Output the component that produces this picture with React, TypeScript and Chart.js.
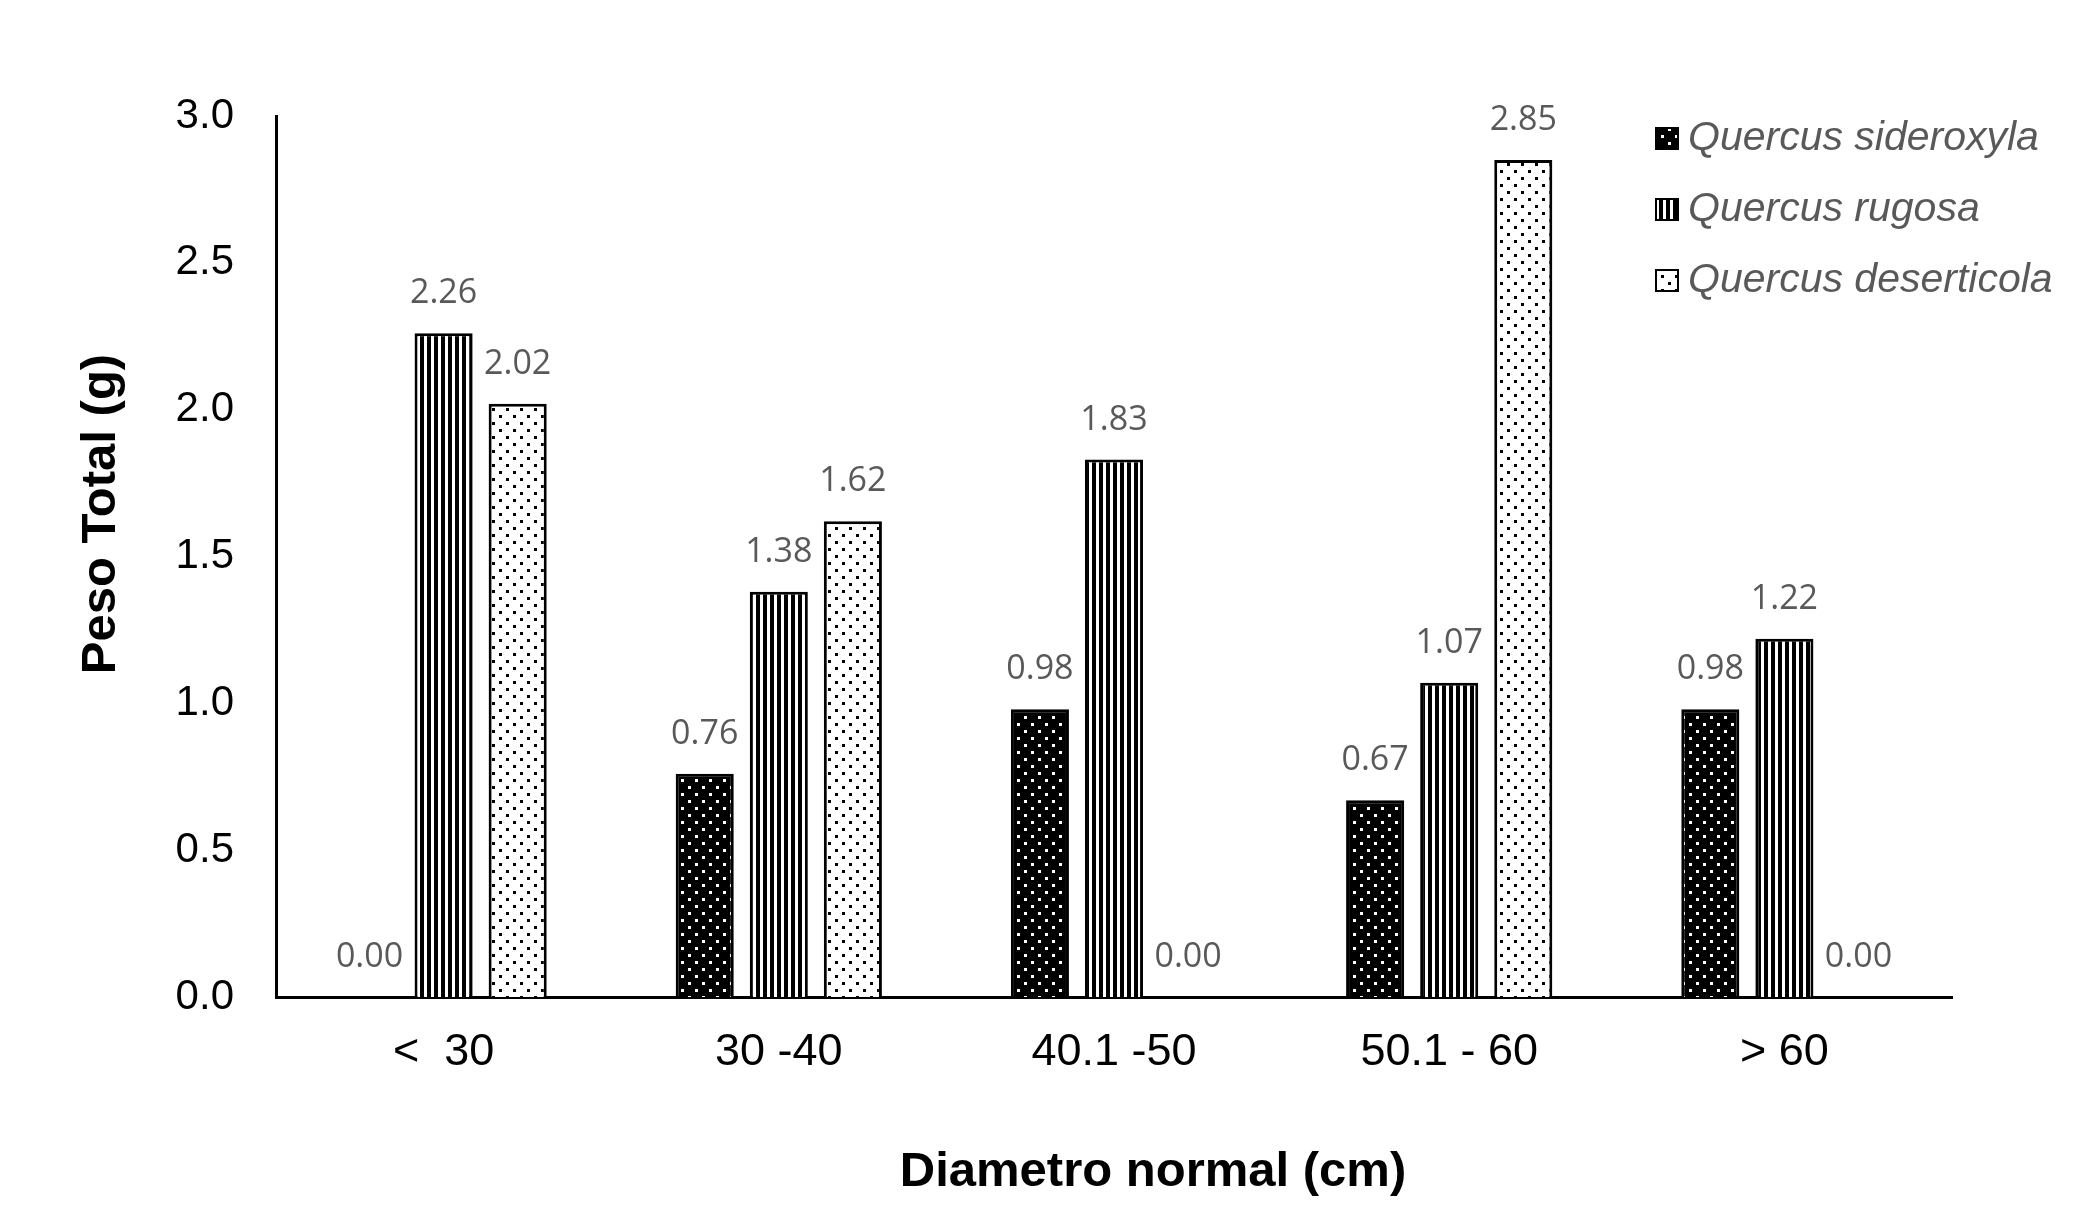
import React, { useEffect, useRef } from 'react';
import { Chart, registerables } from 'chart.js';

Chart.register(...registerables);

const categories = ['<  30', '30 -40', '40.1 -50', '50.1 - 60', '> 60'];
const seriesNames = ['Quercus sideroxyla', 'Quercus rugosa', 'Quercus deserticola'];
const sideroxyla = [0.0, 0.76, 0.98, 0.67, 0.98];
const rugosa = [2.26, 1.38, 1.83, 1.07, 1.22];
const deserticola = [2.02, 1.62, 0.0, 2.85, 0.0];
const yTicks = [0, 0.5, 1.0, 1.5, 2.0, 2.5, 3.0];
const yTitle = 'Peso Total (g)';
const xTitle = 'Diametro normal (cm)';

const W = 2090;
const H = 1205;
const ARIAL = '"Liberation Sans", Arial, sans-serif';

function makeTile(kind: string): HTMLCanvasElement {
  const c = document.createElement('canvas');
  if (kind === 'stripes') {
    c.width = 7;
    c.height = 7;
    const g = c.getContext('2d')!;
    g.fillStyle = '#ffffff';
    g.fillRect(0, 0, 7, 7);
    g.fillStyle = '#000000';
    g.fillRect(0, 0, 4, 7);
  } else {
    c.width = 14;
    c.height = 14;
    const g = c.getContext('2d')!;
    const dark = kind === 'dotsOnBlack';
    g.fillStyle = dark ? '#000000' : '#ffffff';
    g.fillRect(0, 0, 14, 14);
    g.fillStyle = dark ? '#ffffff' : '#000000';
    g.fillRect(2, 2, 3, 3);
    g.fillRect(9, 9, 3, 3);
  }
  return c;
}

const decorPlugin = {
  id: 'decor',
  afterDatasetsDraw(chart: any) {
    const ctx = chart.ctx as CanvasRenderingContext2D;
    ctx.save();
    // value labels
    ctx.font = '34px "Open Sans", "Noto Sans", sans-serif';
    ctx.fillStyle = '#595959';
    ctx.textAlign = 'center';
    ctx.textBaseline = 'alphabetic';
    chart.data.datasets.forEach((ds: any, i: number) => {
      const meta = chart.getDatasetMeta(i);
      meta.data.forEach((bar: any, j: number) => {
        const v = Number(ds.data[j]);
        ctx.fillText(v.toFixed(2), bar.x, bar.y - 30);
      });
    });

    // legend
    const lx = 1655;
    const ly0 = 150;
    const step = 71;
    chart.data.datasets.forEach((ds: any, i: number) => {
      const by = ly0 + i * step;
      ctx.fillStyle = ds.backgroundColor;
      ctx.fillRect(lx, by - 23, 24, 23);
      ctx.strokeStyle = '#000';
      ctx.lineWidth = 2;
      ctx.strokeRect(lx + 1, by - 22, 22, 21);
      ctx.font = `italic 41px ${ARIAL}`;
      ctx.fillStyle = '#595959';
      ctx.textAlign = 'left';
      ctx.textBaseline = 'alphabetic';
      ctx.fillText(ds.label, 1688, by);
    });

    // axis titles
    ctx.font = `bold 49px ${ARIAL}`;
    ctx.fillStyle = '#000';
    ctx.textAlign = 'center';
    ctx.textBaseline = 'middle';
    ctx.fillText(xTitle, 1153, 1172);
    ctx.save();
    ctx.translate(101, 514);
    ctx.rotate(-Math.PI / 2);
    ctx.fillText(yTitle, 0, 0);
    ctx.restore();
    ctx.restore();
  },
};

export default function App() {
  const ref = useRef<HTMLCanvasElement | null>(null);

  useEffect(() => {
    const canvas = ref.current!;
    const g = canvas.getContext('2d')!;
    const pSider = g.createPattern(makeTile('dotsOnBlack'), 'repeat')!;
    const pRug = g.createPattern(makeTile('stripes'), 'repeat')!;
    const pDes = g.createPattern(makeTile('dotsOnWhite'), 'repeat')!;
    const values = [sideroxyla, rugosa, deserticola];
    const fills = [pSider, pRug, pDes];

    const chart = new Chart(canvas, {
      type: 'bar',
      data: {
        labels: categories,
        datasets: values.map((vals, i) => ({
          label: seriesNames[i],
          data: vals,
          backgroundColor: fills[i] as any,
          borderColor: '#000000',
          borderWidth: (c: any) => (Number(c.raw) === 0 ? 0 : 3),
          categoryPercentage: 0.663,
          barPercentage: 0.784,
        })),
      },
      options: {
        responsive: false,
        devicePixelRatio: 1,
        animation: false,
        layout: { padding: { top: 116, right: 138, left: 0, bottom: 0 } },
        plugins: {
          legend: { display: false },
          tooltip: { enabled: false },
        },
        scales: {
          x: {
            grid: { display: false, drawTicks: false },
            border: { display: true, color: '#000000', width: 3 },
            ticks: {
              color: '#000000',
              font: { family: ARIAL, size: 45 },
              padding: 29,
              maxRotation: 0,
            },
            afterFit: (s: any) => {
              s.height = 208;
            },
          },
          y: {
            min: 0,
            max: 3,
            grid: { display: false, drawTicks: false },
            border: { display: true, color: '#000000', width: 3 },
            ticks: {
              color: '#000000',
              font: { family: ARIAL, size: 42 },
              padding: 42,
              callback: (v: any) => Number(v).toFixed(1),
            },
            afterBuildTicks: (s: any) => {
              s.ticks = yTicks.map((v) => ({ value: v }));
            },
            afterFit: (s: any) => {
              s.width = 276;
            },
          },
        },
      },
      plugins: [decorPlugin],
    });
    return () => chart.destroy();
  }, []);

  return (
    <div style={{ position: 'absolute', left: 0, top: 0, width: W, height: H, background: '#fff' }}>
      <canvas ref={ref} width={W} height={H} style={{ display: 'block', width: W, height: H }} />
    </div>
  );
}
